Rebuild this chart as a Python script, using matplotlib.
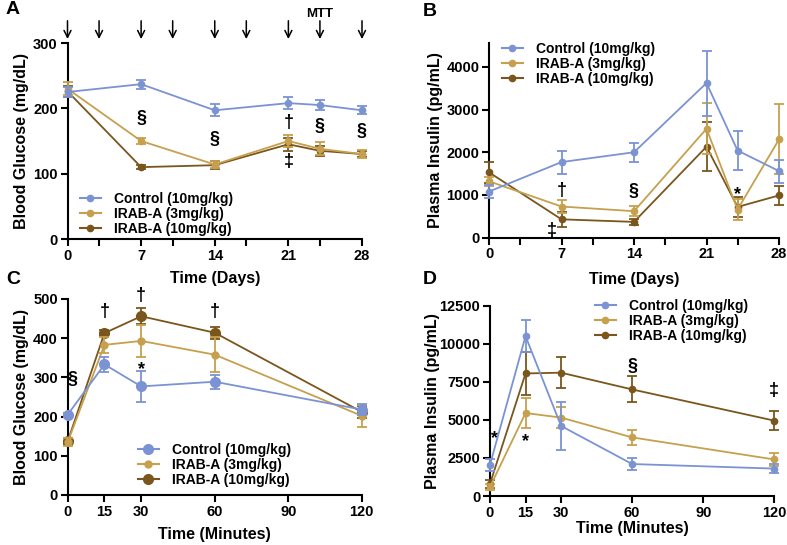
import matplotlib
matplotlib.use("Agg")
import matplotlib.pyplot as plt
from matplotlib.lines import Line2D

plt.rcParams['font.family'] = ['Liberation Sans', 'DejaVu Sans']
plt.rcParams['font.weight'] = 'bold'
plt.rcParams['axes.labelweight'] = 'bold'

# colours
c_ctrl = '#7b93d3'
c_ir3 = '#c6a04e'
c_ir10 = '#7a561c'
labels = ['Control (10mg/kg)', 'IRAB-A (3mg/kg)', 'IRAB-A (10mg/kg)']

# A - blood glucose over days
days_a = [0, 7, 14, 21, 24, 28]
ctrl_a = [225, 237, 197, 208, 205, 197]
ctrl_a_err = [8, 7, 9, 9, 7, 6]
ir3_a = [230, 150, 114, 150, 138, 130]
ir3_a_err = [10, 4, 6, 9, 10, 6]
ir10_a = [226, 110, 113, 145, 135, 130]
ir10_a_err = [8, 3, 6, 10, 8, 5]
dose_days = [0, 3, 7, 10, 14, 17, 21, 24, 28]
marks_a = [('§', 7, 185), ('§', 14, 152), ('†', 21, 178), ('‡', 21, 118),
           ('§', 24, 172), ('§', 28, 165)]

# B - plasma insulin over days
days_b = [0, 7, 14, 21, 24, 28]
ctrl_b = [1080, 1770, 2000, 3620, 2040, 1560]
ctrl_b_err = [160, 270, 220, 760, 450, 270]
ir3_b = [1320, 730, 620, 2550, 660, 2300]
ir3_b_err = [100, 150, 120, 600, 250, 820]
ir10_b = [1530, 430, 370, 2130, 720, 990]
ir10_b_err = [250, 170, 70, 580, 230, 220]
marks_b = [('†', 7, 1100), ('§', 14, 1080), ('‡', 6.1, 180), ('*', 24, 1000)]

# C - blood glucose during MTT
mins = [0, 15, 30, 60, 120]
ctrl_c = [205, 333, 277, 289, 218]
ctrl_c_err = [5, 20, 40, 18, 15]
ir3_c = [135, 383, 393, 358, 202]
ir3_c_err = [10, 20, 40, 45, 28]
ir10_c = [137, 413, 456, 414, 212]
ir10_c_err = [8, 8, 20, 15, 15]
marks_c = [('§', 1.8, 295), ('†', 15, 468), ('†', 30, 510), ('*', 30, 320),
           ('†', 60, 468)]

# D - plasma insulin during MTT
ctrl_d = [2050, 10500, 4600, 2100, 1800]
ctrl_d_err = [400, 1050, 1600, 400, 300]
ir3_d = [600, 5450, 5150, 3850, 2400]
ir3_d_err = [200, 1000, 700, 500, 400]
ir10_d = [800, 8050, 8100, 7000, 4950]
ir10_d_err = [250, 1400, 1000, 850, 620]
marks_d = [('*', 1.8, 3800), ('*', 15, 3600), ('§', 60, 8500), ('‡', 120, 6900)]

W, H = 787, 545
fig = plt.figure(figsize=(W / 100, H / 100), dpi=100)


def px_axes(l, r, b, t):
    return fig.add_axes([l / W, 1 - b / H, (r - l) / W, (b - t) / H])


def style(ax):
    for s in ['top', 'right']:
        ax.spines[s].set_visible(False)
    for s in ['left', 'bottom']:
        ax.spines[s].set_linewidth(1.5)
    ax.tick_params(which='both', width=1.5, length=5, labelsize=10.5, pad=2)
    for t in ax.get_xticklabels() + ax.get_yticklabels():
        t.set_fontweight('bold')


def series(ax, x, y, e, color, ms=4.5, z=3):
    ax.errorbar(x, y, yerr=e, color=color, lw=1.3, marker='o', ms=ms,
                capsize=3.5, capthick=1.3, elinewidth=1.3, clip_on=False, zorder=z)


def marks(ax, items):
    for s, x, y in items:
        ax.text(x, y, s, ha='center', va='center', fontsize=13, fontweight='bold',
                clip_on=False)


def legend(ax, x, y, sizes=(4.5, 4.5, 4.5)):
    handles = [Line2D([], [], color=c, marker='o', ms=m, lw=1.5)
               for c, m in zip([c_ctrl, c_ir3, c_ir10], sizes)]
    ax.legend(handles, labels, loc='upper left', bbox_to_anchor=(x / W, 1 - y / H),
              bbox_transform=fig.transFigure, frameon=False,
              handlelength=1.5, handletextpad=0.95, labelspacing=0.08,
              borderpad=0, borderaxespad=0, prop={'weight': 'bold', 'size': 10})


# ---- A
axA = px_axes(67.5, 362, 239, 43)
series(axA, days_a, ctrl_a, ctrl_a_err, c_ctrl, z=5)
series(axA, days_a, ir10_a, ir10_a_err, c_ir10)
series(axA, days_a, ir3_a, ir3_a_err, c_ir3, z=4)
axA.set_xlim(0, 28)
axA.set_ylim(0, 300)
axA.set_xticks([0, 7, 14, 21, 28])
axA.set_xticks([3, 10, 17, 24], minor=True)
axA.set_yticks([0, 100, 200, 300])
style(axA)
axA.set_ylabel('Blood Glucose (mg/dL)', fontsize=11.5)
axA.set_xlabel('Time (Days)', fontsize=11.5)
axA.yaxis.set_label_coords(-0.131, 0.5)
axA.xaxis.set_label_coords(0.5, -0.165)
for d in dose_days:
    axA.annotate('', xy=(d, 306), xytext=(d, 334), annotation_clip=False,
                 arrowprops=dict(arrowstyle='->,head_length=0.5,head_width=0.25',
                                 lw=1.1, color='black', shrinkA=0, shrinkB=0))
axA.text(24, 345, 'MTT', ha='center', va='center', fontsize=9.5,
         fontweight='bold', clip_on=False)
marks(axA, marks_a)
legend(axA, 80, 192)

# ---- B
axB = px_axes(489, 779, 237.7, 43.3)
series(axB, days_b, ctrl_b, ctrl_b_err, c_ctrl, z=5)
series(axB, days_b, ir10_b, ir10_b_err, c_ir10)
series(axB, days_b, ir3_b, ir3_b_err, c_ir3, z=4)
axB.set_xlim(0, 28)
axB.set_ylim(0, 4550)
axB.set_xticks([0, 7, 14, 21, 28])
axB.set_xticks([3, 10, 17, 24], minor=True)
axB.set_yticks([0, 1000, 2000, 3000, 4000])
style(axB)
axB.set_ylabel('Plasma Insulin (pg/mL)', fontsize=11.5)
axB.set_xlabel('Time (Days)', fontsize=11.5)
axB.yaxis.set_label_coords(-0.159, 0.5)
axB.xaxis.set_label_coords(0.5, -0.175)
marks(axB, marks_b)
legend(axB, 502, 42)

# ---- C
axC = px_axes(67.7, 361.7, 495, 299)
series(axC, mins, ctrl_c, ctrl_c_err, c_ctrl, ms=7, z=5)
series(axC, mins, ir3_c, ir3_c_err, c_ir3, ms=5, z=4)
series(axC, mins, ir10_c, ir10_c_err, c_ir10, ms=7)
axC.set_xlim(0, 120)
axC.set_ylim(0, 500)
axC.set_xticks([0, 15, 30, 60, 90, 120])
axC.set_yticks([0, 100, 200, 300, 400, 500])
style(axC)
axC.set_ylabel('Blood Glucose (mg/dL)', fontsize=11.5)
axC.set_xlabel('Time (Minutes)', fontsize=11.5)
axC.yaxis.set_label_coords(-0.133, 0.5)
axC.xaxis.set_label_coords(0.5, -0.165)
marks(axC, marks_c)
legend(axC, 138, 443, sizes=(7, 5, 7))

# ---- D
axD = px_axes(490, 774.3, 496, 305.7)
series(axD, mins, ctrl_d, ctrl_d_err, c_ctrl, z=5)
series(axD, mins, ir10_d, ir10_d_err, c_ir10)
series(axD, mins, ir3_d, ir3_d_err, c_ir3, z=4)
axD.set_xlim(0, 120)
axD.set_ylim(0, 12500)
axD.set_xticks([0, 15, 30, 60, 90, 120])
axD.set_yticks([0, 2500, 5000, 7500, 10000, 12500])
style(axD)
axD.set_ylabel('Plasma Insulin (pg/mL)', fontsize=11.5)
axD.set_xlabel('Time (Minutes)', fontsize=11.5)
axD.yaxis.set_label_coords(-0.176, 0.5)
axD.xaxis.set_label_coords(0.5, -0.13)
marks(axD, marks_d)
legend(axD, 595, 299)

# panel letters
for s, x, y in [('A', 13, 10), ('B', 430, 12), ('C', 13, 279), ('D', 430, 279)]:
    fig.text(x / W, 1 - y / H, s, ha='center', va='center', fontsize=14,
             fontweight='bold')

fig.savefig('out.png', dpi=100)
